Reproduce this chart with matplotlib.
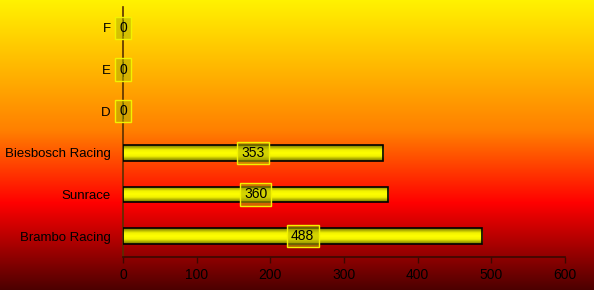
import matplotlib
matplotlib.use('Agg')
import matplotlib.pyplot as plt
import numpy as np
from matplotlib.colors import LinearSegmentedColormap

# ── datos ──
teams = ["Brambo Racing", "Sunrace", "Biesbosch Racing", "D", "E", "F"]
points = [488, 360, 353, 0, 0, 0]
xticks = [0, 100, 200, 300, 400, 500, 600]

plt.rcParams['font.family'] = ['Liberation Sans', 'DejaVu Sans']

fig = plt.figure(figsize=(5.94, 2.90), dpi=100)

# fondo degradado amarillo -> naranja -> rojo -> granate
bg = fig.add_axes([0, 0, 1, 1], zorder=-10)
bg_cmap = LinearSegmentedColormap.from_list("bg", [
    (0.0, (1.0, 0.95, 0.0)),
    (0.45, (1.0, 0.50, 0.0)),
    (0.70, (1.0, 0.0, 0.0)),
    (1.0, (0.30, 0.0, 0.0)),
])
bg.imshow(np.linspace(0, 1, 256).reshape(-1, 1), aspect='auto', cmap=bg_cmap,
          extent=[0, 1, 1, 0])
bg.axis('off')

ax = fig.add_axes([123 / 594, 33 / 290, 442 / 594, 250 / 290])
ax.set_facecolor('none')

y = np.arange(len(teams))
bar_h = 0.38
bars = ax.barh(y, points, height=bar_h, facecolor='none', edgecolor='black',
               linewidth=1.2, zorder=3)

# relleno de barras con degradado vertical
bar_cmap = LinearSegmentedColormap.from_list("bar", [
    (0.0, (0.45, 0.45, 0.0)),
    (0.3, (0.95, 0.95, 0.0)),
    (0.5, (1.0, 1.0, 0.0)),
    (0.7, (0.95, 0.95, 0.0)),
    (1.0, (0.45, 0.45, 0.0)),
])
grad = np.linspace(0, 1, 64).reshape(-1, 1)
for b in bars:
    if b.get_width() <= 0:
        continue
    x0, y0 = b.get_x(), b.get_y()
    im = ax.imshow(grad, aspect='auto', cmap=bar_cmap,
                   extent=[x0, x0 + b.get_width(), y0, y0 + b.get_height()],
                   zorder=2, interpolation='bilinear')
    im.set_clip_path(b)

for yi, v in zip(y, points):
    ax.text(v / 2, yi, str(v), ha='center', va='center', fontsize=10, zorder=5,
            bbox=dict(boxstyle='square,pad=0.3', facecolor=(0.7, 0.7, 0.0, 0.55),
                      edgecolor=(0.95, 0.95, 0.0), linewidth=1))

ax.set_xlim(0, 600)
ax.set_ylim(-0.5, len(teams) - 0.5)
ax.set_xticks(xticks)
ax.set_yticks(y)
ax.set_yticklabels(teams)
ax.tick_params(axis='y', length=0, pad=9, labelsize=9.5)
ax.tick_params(axis='x', length=4, width=1, color='#3a0800', labelsize=10, pad=4)
for s in ['top', 'right']:
    ax.spines[s].set_visible(False)
ax.spines['left'].set_color('#5a3000')
ax.spines['bottom'].set_color('#3a0800')
ax.spines['left'].set_linewidth(1.2)
ax.spines['bottom'].set_linewidth(1.2)
ax.spines['left'].set_zorder(1)

fig.savefig("out.png", dpi=100)
